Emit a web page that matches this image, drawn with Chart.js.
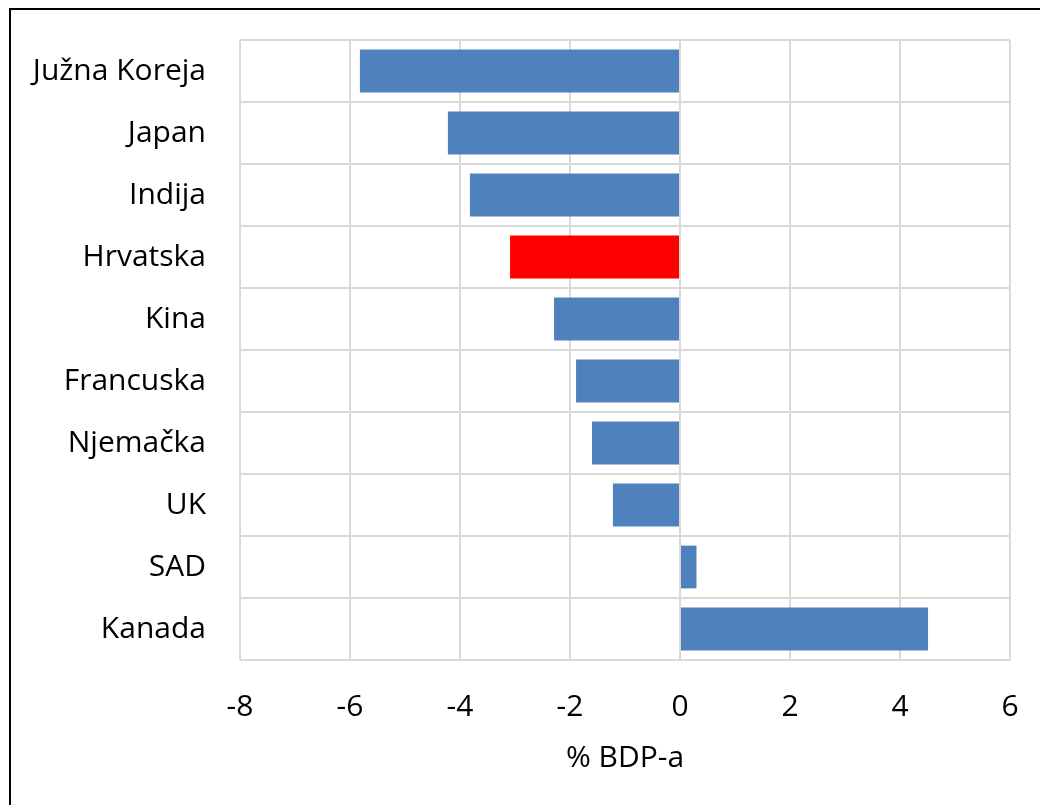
<!DOCTYPE html>
<html>
<head>
<meta charset="utf-8">
<script src="https://cdn.jsdelivr.net/npm/chart.js@4/dist/chart.umd.min.js"></script>
<style>
  html, body { margin: 0; padding: 0; background: #fff; overflow: hidden; }
  #wrap { position: relative; width: 1040px; height: 805px; }
  #frame { position: absolute; left: 9px; top: 8px; width: 1100px; height: 900px; border: 2px solid #000; box-sizing: border-box; pointer-events: none; }
  canvas { position: absolute; left: 0; top: 0; }
</style>
</head>
<body>
<div id="wrap">
  <canvas id="chart" width="1040" height="805"></canvas>
  <div id="frame"></div>
</div>
<script>
// Ključni podaci (% BDP-a)
const countries = ['Južna Koreja', 'Japan', 'Indija', 'Hrvatska', 'Kina', 'Francuska', 'Njemačka', 'UK', 'SAD', 'Kanada'];
const values = [-5.82, -4.22, -3.82, -3.09, -2.29, -1.89, -1.6, -1.22, 0.3, 4.51];
const xTicks = [-8, -6, -4, -2, 0, 2, 4, 6];
const highlight = 'Hrvatska';

const fontFamily = "'Open Sans', 'Noto Sans', sans-serif";

new Chart(document.getElementById('chart'), {
  type: 'bar',
  data: {
    labels: countries,
    datasets: [{
      data: values,
      backgroundColor: countries.map(c => c === highlight ? '#FF0000' : '#4F81BD'),
      borderWidth: 0,
      categoryPercentage: 1,
      barPercentage: 0.69
    }]
  },
  options: {
    indexAxis: 'y',
    responsive: false,
    animation: false,
    layout: {
      padding: { top: 40, right: 30, left: 0, bottom: 0 }
    },
    plugins: {
      legend: { display: false },
      tooltip: { enabled: false }
    },
    scales: {
      x: {
        min: -8,
        max: 6,
        afterBuildTicks: function(scale) {
          scale.ticks = xTicks.map(v => ({ value: v }));
        },
        afterFit: function(scale) {
          scale.height = 145;
          scale.paddingLeft = 0;
          scale.paddingRight = 0;
        },
        grid: {
          color: '#d9d9d9',
          lineWidth: 2,
          drawTicks: false
        },
        border: { display: false },
        ticks: {
          color: '#000',
          padding: 29,
          maxRotation: 0,
          font: { family: fontFamily, size: 30 }
        },
        title: {
          display: true,
          text: '% BDP-a',
          color: '#000',
          padding: { top: 15, bottom: 29 },
          font: { family: fontFamily, size: 30 }
        }
      },
      y: {
        afterFit: function(scale) {
          scale.width = 240;
          scale.paddingTop = 0;
          scale.paddingBottom = 0;
        },
        grid: {
          color: '#d9d9d9',
          lineWidth: 2,
          drawTicks: false
        },
        border: { display: false },
        ticks: {
          color: '#000',
          padding: 34,
          font: { family: fontFamily, size: 30 }
        }
      }
    }
  }
});
</script>
</body>
</html>
